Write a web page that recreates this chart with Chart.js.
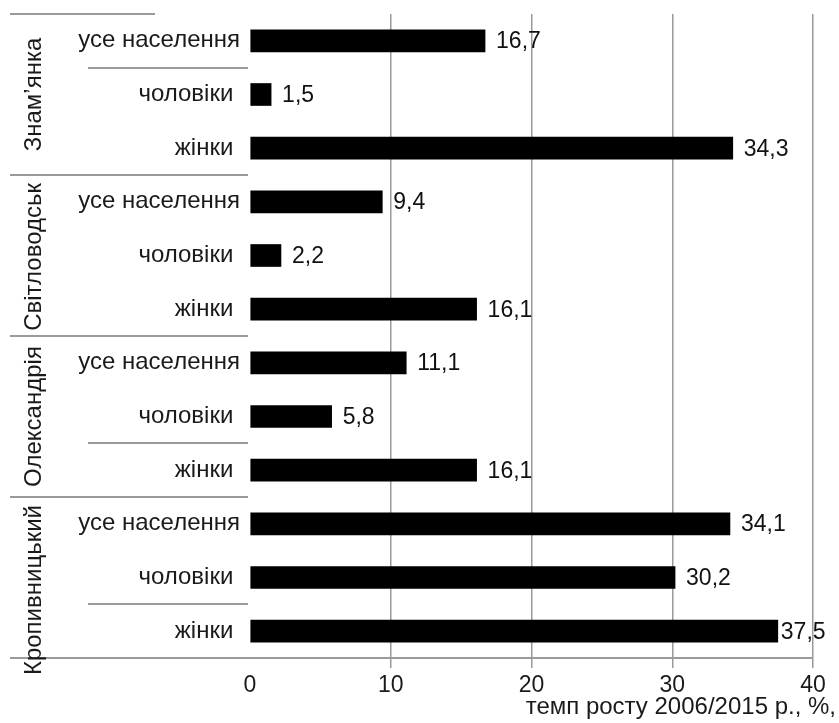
<!DOCTYPE html>
<html>
<head>
<meta charset="utf-8">
<script src="https://cdn.jsdelivr.net/npm/chart.js@4/dist/chart.umd.min.js"></script>
<style>
  html, body { margin: 0; padding: 0; background: #fff; }
  #wrap { width: 839px; height: 723px; }
</style>
</head>
<body>
<div id="wrap"><canvas id="chart"></canvas></div>
<script>
// дані
const cities = ['Знам’янка', 'Світловодськ', 'Олександрія', 'Кропивницький'];
const groups = ['усе населення', 'чоловіки ', 'жінки '];
const values = [16.7, 1.5, 34.3, 9.4, 2.2, 16.1, 11.1, 5.8, 16.1, 34.1, 30.2, 37.5];
const xTicks = [0, 10, 20, 30, 40];
const axisTitle = 'темп росту 2006/2015 р., %,';

const rowLabels = [];
cities.forEach(() => groups.forEach(g => rowLabels.push(g)));

// рядки, під якими є коротка лінія
const dividerRows = [1, 8, 11];

const FONT = '"Liberation Sans", Arial, sans-serif';

const overlay = {
    id: 'overlay',
    afterDatasetsDraw(chart) {
        const ctx = chart.ctx;
        const area = chart.chartArea;
        const rowH = (area.bottom - area.top) / rowLabels.length;
        ctx.save();

        // підписи значень
        ctx.font = '23px ' + FONT;
        ctx.fillStyle = '#111';
        ctx.textBaseline = 'middle';
        ctx.textAlign = 'left';
        chart.getDatasetMeta(0).data.forEach((bar, i) => {
            const txt = String(values[i]).replace('.', ',');
            const w = ctx.measureText(txt).width;
            const gap = bar.x + 11 + w > 825 ? 3 : 11;
            ctx.fillText(txt, bar.x + gap, bar.y + 1);
        });

        // лінії
        ctx.strokeStyle = '#9a9a9a';
        ctx.lineWidth = 2;
        const line = (x1, x2, y) => {
            ctx.beginPath();
            ctx.moveTo(x1, Math.round(y));
            ctx.lineTo(x2, Math.round(y));
            ctx.stroke();
        };
        cities.forEach((c, g) => line(10, g === 0 ? 155 : 248, area.top + g * 3 * rowH));
        line(10, area.right, area.bottom);
        dividerRows.forEach(r => line(88, 248, area.top + r * rowH));

        // назви міст
        ctx.font = '24px ' + FONT;
        ctx.fillStyle = '#1a1a1a';
        ctx.textAlign = 'center';
        cities.forEach((c, g) => {
            const top = area.top + g * 3 * rowH;
            const w = ctx.measureText(c).width;
            const cy = Math.max(top + 1.5 * rowH, top + 8 + w / 2);
            ctx.save();
            ctx.translate(34, cy);
            ctx.rotate(-Math.PI / 2);
            ctx.fillText(c, 0, 0);
            ctx.restore();
        });

        // назва осі
        ctx.font = '24px ' + FONT;
        ctx.textAlign = 'right';
        ctx.fillText(axisTitle, 836, 707);
        ctx.restore();
    }
};

new Chart(document.getElementById('chart'), {
    type: 'bar',
    data: {
        labels: rowLabels,
        datasets: [{
            data: values,
            backgroundColor: '#000',
            borderWidth: 0,
            barThickness: 22
        }]
    },
    options: {
        indexAxis: 'y',
        responsive: true,
        maintainAspectRatio: false,
        animation: false,
        layout: { padding: { left: 0, right: 26, top: 14, bottom: 0 } },
        plugins: { legend: { display: false }, tooltip: { enabled: false } },
        scales: {
            x: {
                min: 0,
                max: 40,
                afterBuildTicks: s => { s.ticks = xTicks.map(v => ({ value: v })); },
                afterFit: s => { s.height = 65; s.paddingLeft = 0; s.paddingRight = 0; },
                border: { display: false },
                grid: {
                    color: c => (c.tick && c.tick.value === 0 ? 'rgba(0,0,0,0)' : '#9a9a9a'),
                    lineWidth: 1.5,
                    tickLength: 10
                },
                ticks: {
                    padding: 4,
                    color: '#1a1a1a',
                    font: { family: FONT, size: 23 }
                }
            },
            y: {
                afterFit: s => { s.width = 250; s.paddingTop = 0; s.paddingBottom = 0; },
                border: { display: false },
                grid: { display: false, drawTicks: false },
                ticks: {
                    padding: 10,
                    color: '#1a1a1a',
                    font: { family: FONT, size: 24 }
                }
            }
        }
    },
    plugins: [overlay]
});
</script>
</body>
</html>
